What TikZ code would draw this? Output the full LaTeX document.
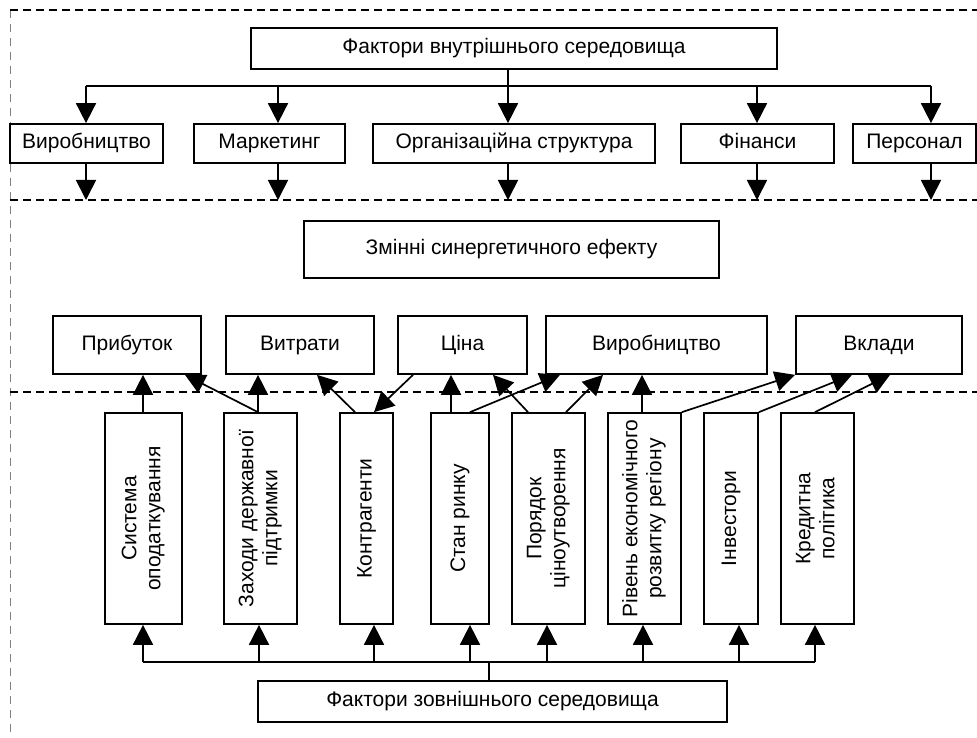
\documentclass[tikz,border=0pt]{standalone}
\usepackage{fontspec}
\setmainfont{Liberation Sans}
\usetikzlibrary{arrows.meta}
\begin{document}
\begin{tikzpicture}[x=1pt,y=-1pt,
  box/.style={draw, line width=1.7pt, fill=white, inner sep=0pt, align=center},
  hbox/.style={box, text height=15pt, text depth=4.5pt},
  arr/.style={line width=1.7pt, -{Triangle[length=20pt,width=20pt]}},
  ln/.style={line width=1.7pt},
  dline/.style={line width=1.5pt, dash pattern=on 8pt off 5pt},
  gline/.style={line width=1pt, gray, dash pattern=on 8pt off 6pt},
  font=\fontsize{21}{24}\selectfont]
\useasboundingbox (0,0) rectangle (977,738);
% dashed zone lines
\draw[gline] (10,10) -- (10,738);
\draw[dline] (10,10) -- (977,10);
\draw[dline] (10,200) -- (977,200);
\draw[dline] (10,392) -- (977,392);
% top
\node[hbox, minimum width=526pt, minimum height=41pt] (top) at (514,48.5) {Фактори внутрішнього середовища};
\node[hbox, minimum width=153pt, minimum height=39pt] (i1) at (86.5,143.5) {Виробництво};
\node[hbox, minimum width=151pt, minimum height=39pt] (i2) at (269.5,143.5) {Маркетинг};
\node[hbox, minimum width=282pt, minimum height=39pt] (i3) at (514,143.5) {Організаційна структура};
\node[hbox, minimum width=153pt, minimum height=39pt] (i4) at (757.5,143.5) {Фінанси};
\node[hbox, minimum width=123pt, minimum height=39pt] (i5) at (914.5,143.5) {Персонал};
\coordinate (tb1) at (86,86);
\coordinate (tb2) at (278,86);
\coordinate (tb3) at (508,86);
\coordinate (tb4) at (757,86);
\coordinate (tb5) at (931,86);
\draw[ln] (tb3 |- top.south) -- (tb3);
\draw[ln] (tb1) -- (tb5);
\draw[arr] (tb1) -- (tb1 |- i1.north);
\draw[arr] (tb2) -- (tb2 |- i2.north);
\draw[arr] (tb3) -- (tb3 |- i3.north);
\draw[arr] (tb4) -- (tb4 |- i4.north);
\draw[arr] (tb5) -- (tb5 |- i5.north);
\coordinate (d1) at (86,200);
\coordinate (d2) at (278,200);
\coordinate (d3) at (508,200);
\coordinate (d4) at (757,200);
\coordinate (d5) at (931,200);
\draw[arr] (d1 |- i1.south) -- (d1);
\draw[arr] (d2 |- i2.south) -- (d2);
\draw[arr] (d3 |- i3.south) -- (d3);
\draw[arr] (d4 |- i4.south) -- (d4);
\draw[arr] (d5 |- i5.south) -- (d5);
% middle
\node[hbox, minimum width=415pt, minimum height=57pt] (syn) at (511.5,249.5) {Змінні синергетичного ефекту};
\node[hbox, minimum width=148pt, minimum height=58pt] (p1) at (127,345) {Прибуток};
\node[hbox, minimum width=148pt, minimum height=58pt] (p2) at (300,345) {Витрати};
\node[hbox, minimum width=129pt, minimum height=58pt] (p3) at (462.5,345) {Ціна};
\node[hbox, minimum width=221pt, minimum height=58pt] (p4) at (656.5,345) {Виробництво};
\node[hbox, minimum width=166pt, minimum height=58pt] (p5) at (879,345) {Вклади};
% bottom vertical boxes
\node[box, minimum width=77pt, minimum height=211pt] (s1) at (143.5,518.5) {\rotatebox{90}{\begin{tabular}{@{}c@{}}Система\\оподаткування\end{tabular}}};
\node[box, minimum width=73pt, minimum height=211pt] (s2) at (260.5,518.5) {\rotatebox{90}{\begin{tabular}{@{}c@{}}Заходи державної\\підтримки\end{tabular}}};
\node[box, minimum width=53pt, minimum height=211pt] (s3) at (366.5,518.5) {\rotatebox{90}{Контрагенти}};
\node[box, minimum width=58pt, minimum height=211pt] (s4) at (460,518.5) {\rotatebox{90}{Стан ринку}};
\node[box, minimum width=73pt, minimum height=211pt] (s5) at (548.5,518.5) {\rotatebox{90}{\begin{tabular}{@{}c@{}}Порядок\\ціноутворення\end{tabular}}};
\node[box, minimum width=73pt, minimum height=211pt] (s6) at (644.5,518.5) {\rotatebox{90}{\begin{tabular}{@{}c@{}}Рівень економічного\\розвитку регіону\end{tabular}}};
\node[box, minimum width=54pt, minimum height=211pt] (s7) at (731,518.5) {\rotatebox{90}{Інвестори}};
\node[box, minimum width=73pt, minimum height=211pt] (s8) at (817.5,518.5) {\rotatebox{90}{\begin{tabular}{@{}c@{}}Кредитна\\політика\end{tabular}}};
\node[hbox, minimum width=469pt, minimum height=41pt] (ext) at (492.5,701.5) {Фактори зовнішнього середовища};
% links bottom boxes -> middle row
\draw[arr] ([xshift=-0.5pt]s1.north) -- ([xshift=-0.5pt]s1.north |- p1.south);
\draw[arr] ([xshift=-2.5pt]s2.north) -- ([xshift=58pt]p1.south);
\draw[arr] ([xshift=-2.5pt]s2.north) -- ([xshift=-2.5pt]s2.north |- p2.south);
\draw[arr] ([xshift=-11.5pt]s3.north) -- ([xshift=17pt]p2.south);
\draw[arr] ([xshift=-49.5pt]p3.south) -- ([xshift=7.5pt]s3.north);
\draw[arr] ([xshift=-9pt]s4.north) -- ([xshift=-9pt]s4.north |- p3.south);
\draw[arr] ([xshift=-20.5pt]s5.north) -- ([xshift=30.5pt]p3.south);
\draw[arr] ([xshift=10pt]s4.north) -- ([xshift=-96.5pt]p4.south);
\draw[arr] ([xshift=17.5pt]s5.north) -- ([xshift=-53.5pt]p4.south);
\draw[arr] ([xshift=-2.5pt]s6.north) -- ([xshift=-2.5pt]s6.north |- p4.south);
\draw[arr] (s6.north east) -- ([xshift=-84pt]p5.south);
\draw[arr] (s7.north east) -- ([xshift=-27pt]p5.south);
\draw[arr] ([xshift=-2.5pt]s8.north) -- ([xshift=11pt]p5.south);
% bottom bus
\coordinate (b1) at (143,662);
\coordinate (b2) at (259,662);
\coordinate (b3) at (374,662);
\coordinate (b4) at (470,662);
\coordinate (b5) at (547,662);
\coordinate (b6) at (643,662);
\coordinate (b7) at (739,662);
\coordinate (b8) at (815,662);
\coordinate (bs) at (489,662);
\draw[ln] (bs |- ext.north) -- (bs);
\draw[ln] (b1) -- (b8);
\draw[arr] (b1) -- (b1 |- s1.south);
\draw[arr] (b2) -- (b2 |- s2.south);
\draw[arr] (b3) -- (b3 |- s3.south);
\draw[arr] (b4) -- (b4 |- s4.south);
\draw[arr] (b5) -- (b5 |- s5.south);
\draw[arr] (b6) -- (b6 |- s6.south);
\draw[arr] (b7) -- (b7 |- s7.south);
\draw[arr] (b8) -- (b8 |- s8.south);
\end{tikzpicture}
\end{document}
